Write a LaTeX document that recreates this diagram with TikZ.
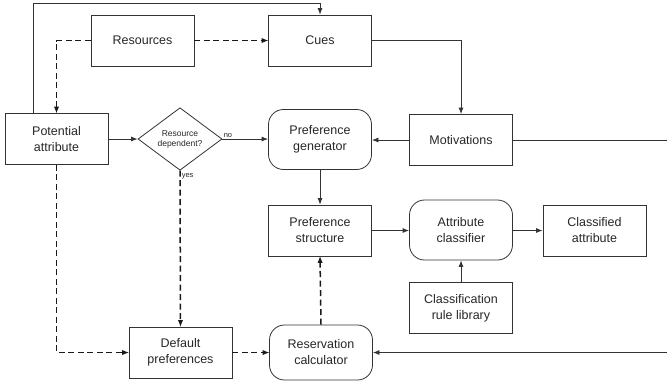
\documentclass[tikz,border=0pt]{standalone}
\usepackage{fontspec}
\setmainfont{Liberation Sans}
\usetikzlibrary{shapes.geometric,arrows.meta}
\begin{document}
\begin{tikzpicture}[x=1pt,y=-1pt,
  box/.style={draw=black!80, line width=0.8pt, minimum width=103pt, minimum height=51pt, align=center, font=\fontsize{12.5}{16}\selectfont, text=black!85, inner sep=0pt},
  rbox/.style={box, rounded corners=15pt, minimum height=60pt},
  dia/.style={draw=black!80, line width=0.8pt, diamond, minimum width=84pt, minimum height=52pt, inner sep=0pt, align=center, font=\fontsize{8.5}{10}\selectfont, text=black!85},
  arr/.style={draw=black!80, line width=0.8pt, -{Latex[length=6.5pt,width=5pt]}},
  ln/.style={draw=black!80, line width=0.8pt},
  darr/.style={draw=black!90, line width=1.5pt, dash pattern=on 6pt off 3.5pt, -{Latex[length=6.5pt,width=5pt,line width=0pt]}},
  lab/.style={font=\fontsize{7.5}{9}\selectfont, text=black!85, inner sep=1pt}
]
\useasboundingbox (0,0) rectangle (667,384);
\node[box] (res) at (142.5,40.5) {Resources};
\node[box] (cues) at (320,40.5) {Cues};
\node[box] (pot) at (56.5,139) {Potential\\attribute};
\node[dia] (dia) at (180,139) {Resource\\dependent?};
\node[rbox] (pgen) at (320,139.5) {Preference\\generator};
\node[box] (mot) at (461,140) {Motivations};
\node[box] (pstr) at (320,230.5) {Preference\\structure};
\node[rbox] (acl) at (461,230) {Attribute\\classifier};
\node[box] (cat) at (594.5,230.5) {Classified\\attribute};
\node[box] (crl) at (461,308) {Classification\\rule library};
\node[box] (def) at (180.5,352.5) {Default\\preferences};
\node[rbox, minimum height=55pt] (resv) at (321,352.5) {Reservation\\calculator};
\coordinate (t1) at (33,3);
\coordinate (t2) at (320,3);
\coordinate (rm) at (667,140);
\coordinate (rr) at (667,352.5);
% connectors
\draw[arr] (pot.north -| t1) -- (t1) -- (t2) -- (cues.north);
\draw[darr] (res.west) -| (pot.north);
\draw[darr] (res.east) -- (cues.west);
\draw[arr] (cues.east) -| (mot.north);
\draw[arr] (mot.west) -- (pgen.east |- mot.west);
\draw[ln] (mot.east) -- (rm);
\draw[arr] (pot.east) -- (dia.west);
\draw[arr] (dia.east) -- (pgen.west |- dia.east) node[lab, pos=0, anchor=south west] {no};
\draw[darr] (dia.south) -- (def.north) node[lab, pos=0, anchor=north west, yshift=-1pt] {yes};
\draw[darr] (pot.south) |- (def.west);
\draw[darr] (def.east) -- (resv.west);
\draw[darr] (resv.north) -- (pstr.south);
\draw[arr] (rr) -- (resv.east);
\draw[arr] (pgen.south) -- (pstr.north);
\draw[arr] (pstr.east) -- (acl.west |- pstr.east);
\draw[arr] (acl.east |- cat.west) -- (cat.west);
\draw[arr] (crl.north) -- (acl.south);
\end{tikzpicture}
\end{document}
